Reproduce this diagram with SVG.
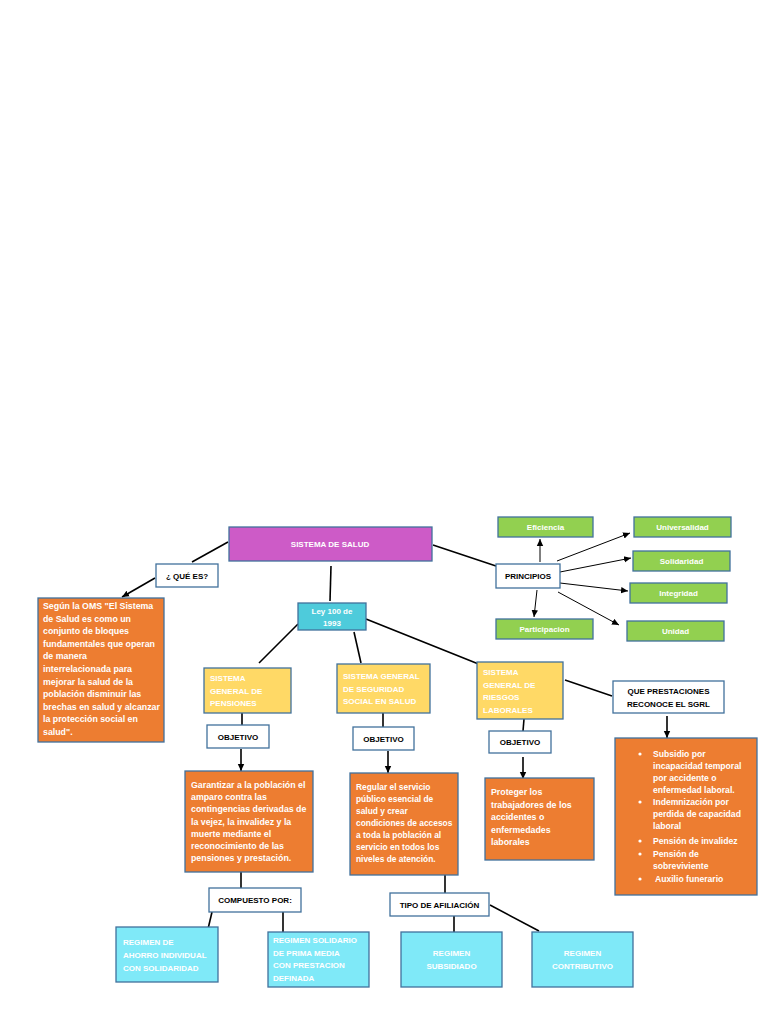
<svg xmlns="http://www.w3.org/2000/svg" width="768" height="1024" viewBox="0 0 768 1024">
<style>
.bx{stroke:#41719C;stroke-width:1.3}
.pink{fill:#CD5BC7}
.cyan{fill:#4ECBDB}
.lcyan{fill:#7FE9F8}
.org{fill:#ED7D31}
.yel{fill:#FFD966}
.grn{fill:#92D050}
.wht{fill:#FFFFFF}
text{font-family:"Liberation Sans",Arial,sans-serif;font-size:8px;font-weight:bold}
.body{font-size:8.8px}
.reg{font-size:8.4px}
.lst{font-size:8.6px}
.w{fill:#FFFFFF}
.k{fill:#000000}
.c{text-anchor:middle}
.ln{stroke:#000;stroke-width:1.6;fill:none}
.th{stroke:#000;stroke-width:1;fill:none}
</style>
<defs>
<marker id="ah" markerUnits="userSpaceOnUse" markerWidth="8" markerHeight="8" refX="7" refY="4" orient="auto">
<path d="M0,0.8 L7,4 L0,7.2 Z" fill="#000"/>
</marker>
</defs>
<rect width="768" height="1024" fill="#FFFFFF"/>

<g id="connectors">
<line class="ln" x1="228" y1="542" x2="192" y2="562"/>
<line class="ln" x1="155" y1="578" x2="122" y2="597" marker-end="url(#ah)"/>
<line class="ln" x1="331" y1="566" x2="330" y2="601"/>
<line class="ln" x1="433" y1="545" x2="496" y2="566"/>
<line class="th" x1="540" y1="562" x2="540" y2="539" marker-end="url(#ah)"/>
<line class="th" x1="557" y1="561" x2="630" y2="533" marker-end="url(#ah)"/>
<line class="th" x1="560" y1="572" x2="631" y2="558" marker-end="url(#ah)"/>
<line class="th" x1="560" y1="583" x2="628" y2="591" marker-end="url(#ah)"/>
<line class="th" x1="558" y1="592" x2="619" y2="625" marker-end="url(#ah)"/>
<line class="th" x1="537" y1="590" x2="534" y2="617" marker-end="url(#ah)"/>
<line class="ln" x1="298" y1="624" x2="259" y2="663"/>
<line class="ln" x1="354" y1="632" x2="361" y2="663"/>
<line class="ln" x1="366" y1="619" x2="481" y2="665"/>
<line class="ln" x1="242" y1="713" x2="242" y2="726"/>
<line class="ln" x1="383" y1="713" x2="383" y2="727"/>
<line class="ln" x1="524" y1="719" x2="523" y2="731"/>
<line class="ln" x1="565" y1="680" x2="612" y2="696"/>
<line class="ln" x1="667" y1="716" x2="667" y2="738" marker-end="url(#ah)"/>
<line class="ln" x1="241" y1="749" x2="241" y2="771" marker-end="url(#ah)"/>
<line class="ln" x1="388" y1="751" x2="388" y2="773" marker-end="url(#ah)"/>
<line class="ln" x1="523" y1="757" x2="523" y2="779" marker-end="url(#ah)"/>
<line class="ln" x1="241" y1="872" x2="241" y2="888"/>
<line class="ln" x1="212" y1="912" x2="208" y2="929"/>
<line class="ln" x1="283" y1="912" x2="283" y2="932"/>
<line class="ln" x1="445" y1="875" x2="445" y2="893"/>
<line class="ln" x1="454" y1="916" x2="454" y2="933"/>
<line class="ln" x1="490" y1="905" x2="539" y2="931"/>
</g>

<g id="sistema">
<rect class="bx pink" x="229" y="527" width="203" height="34"/>
<text class="w c" x="330" y="547">SISTEMA DE SALUD</text>
</g>
<g id="quees">
<rect class="bx wht" x="156" y="564" width="62" height="23"/>
<text class="k c" x="187" y="579">¿ QUÉ ES?</text>
</g>
<g id="oms">
<rect class="bx org" x="38" y="598" width="126" height="144"/>
<text class="w body" x="43"><tspan x="43" y="609">Según la OMS  "El Sistema</tspan><tspan x="43" y="621.6">de Salud es como un</tspan><tspan x="43" y="634.2">conjunto de bloques</tspan><tspan x="43" y="646.8">fundamentales que operan</tspan><tspan x="43" y="659.4">de manera</tspan><tspan x="43" y="672">interrelacionada para</tspan><tspan x="43" y="684.6">mejorar la salud de la</tspan><tspan x="43" y="697.2">población disminuir las</tspan><tspan x="43" y="709.8">brechas en salud y alcanzar</tspan><tspan x="43" y="722.4">la protección social en</tspan><tspan x="43" y="735">salud".</tspan></text>
</g>
<g id="ley">
<rect class="bx cyan" x="298" y="603" width="68" height="27"/>
<text class="w c"><tspan x="332" y="614">Ley 100 de</tspan><tspan x="332" y="626">1993</tspan></text>
</g>
<g id="principios">
<rect class="bx wht" x="496" y="564" width="64" height="24"/>
<text class="k c" x="528" y="579">PRINCIPIOS</text>
</g>
<g id="eficiencia">
<rect class="bx grn" x="498" y="517" width="95" height="20"/>
<text class="w c" x="545.5" y="530">Eficiencia</text>
</g>
<g id="universalidad">
<rect class="bx grn" x="634" y="517" width="97" height="20"/>
<text class="w c" x="682.5" y="530">Universalidad</text>
</g>
<g id="solidaridad">
<rect class="bx grn" x="633" y="551" width="97" height="20"/>
<text class="w c" x="681.5" y="564">Solidaridad</text>
</g>
<g id="integridad">
<rect class="bx grn" x="630" y="583" width="97" height="20"/>
<text class="w c" x="678.5" y="596">Integridad</text>
</g>
<g id="unidad">
<rect class="bx grn" x="627" y="621" width="97" height="20"/>
<text class="w c" x="675.5" y="634">Unidad</text>
</g>
<g id="participacion">
<rect class="bx grn" x="496" y="619" width="97" height="20"/>
<text class="w c" x="544.5" y="632">Participacion</text>
</g>
<g id="pensiones">
<rect class="bx yel" x="204" y="668" width="87" height="45"/>
<text class="w"><tspan x="210" y="681">SISTEMA</tspan><tspan x="210" y="693.5">GENERAL DE</tspan><tspan x="210" y="706">PENSIONES</tspan></text>
</g>
<g id="sgsss">
<rect class="bx yel" x="337" y="664" width="93" height="49"/>
<text class="w"><tspan x="343" y="679">SISTEMA GENERAL</tspan><tspan x="343" y="691.5">DE SEGURIDAD</tspan><tspan x="343" y="704">SOCIAL EN SALUD</tspan></text>
</g>
<g id="riesgos">
<rect class="bx yel" x="477" y="662" width="86" height="57"/>
<text class="w"><tspan x="483" y="675">SISTEMA</tspan><tspan x="483" y="687.5">GENERAL DE</tspan><tspan x="483" y="700">RIESGOS</tspan><tspan x="483" y="712.5">LABORALES</tspan></text>
</g>
<g id="prestaciones">
<rect class="bx wht" x="613" y="681" width="111" height="32"/>
<text class="k c"><tspan x="668.5" y="694">QUE PRESTACIONES</tspan><tspan x="668.5" y="706.5">RECONOCE EL SGRL</tspan></text>
</g>
<g id="objetivo1">
<rect class="bx wht" x="207" y="725" width="62" height="23"/>
<text class="k c" x="238" y="740">OBJETIVO</text>
</g>
<g id="objetivo2">
<rect class="bx wht" x="353" y="727" width="61" height="23"/>
<text class="k c" x="383.5" y="742">OBJETIVO</text>
</g>
<g id="objetivo3">
<rect class="bx wht" x="489" y="731" width="62" height="22"/>
<text class="k c" x="520" y="745">OBJETIVO</text>
</g>
<g id="garantizar">
<rect class="bx org" x="185" y="771" width="128" height="101"/>
<text class="w body"><tspan x="191" y="788">Garantizar a la población el</tspan><tspan x="191" y="800.2">amparo contra las</tspan><tspan x="191" y="812.4">contingencias derivadas de</tspan><tspan x="191" y="824.6">la vejez, la invalidez y la</tspan><tspan x="191" y="836.8">muerte mediante el</tspan><tspan x="191" y="849">reconocimiento de las</tspan><tspan x="191" y="861.2">pensiones y prestación.</tspan></text>
</g>
<g id="regular">
<rect class="bx org" x="350" y="773" width="108" height="102"/>
<text class="w reg"><tspan x="356" y="790">Regular el servicio</tspan><tspan x="356" y="802">público esencial de</tspan><tspan x="356" y="814">salud y crear</tspan><tspan x="356" y="826">condiciones de accesos</tspan><tspan x="356" y="838">a toda la población al</tspan><tspan x="356" y="850">servicio en todos los</tspan><tspan x="356" y="862">niveles de atención.</tspan></text>
</g>
<g id="proteger">
<rect class="bx org" x="485" y="778" width="109" height="82"/>
<text class="w body"><tspan x="491" y="795">Proteger los</tspan><tspan x="491" y="807.5">trabajadores de los</tspan><tspan x="491" y="820">accidentes o</tspan><tspan x="491" y="832.5">enfermedades</tspan><tspan x="491" y="845">laborales</tspan></text>
</g>
<g id="lista">
<rect class="bx org" x="615" y="738" width="142" height="157"/>
<circle cx="640" cy="754" r="1.6" fill="#fff"/>
<circle cx="640" cy="802" r="1.6" fill="#fff"/>
<circle cx="640" cy="841" r="1.6" fill="#fff"/>
<circle cx="640" cy="854" r="1.6" fill="#fff"/>
<circle cx="640" cy="879" r="1.6" fill="#fff"/>
<text class="w lst"><tspan x="653" y="757">Subsidio por</tspan><tspan x="653" y="769">incapacidad temporal</tspan><tspan x="653" y="781">por accidente o</tspan><tspan x="653" y="793">enfermedad laboral.</tspan><tspan x="653" y="805">Indemnización por</tspan><tspan x="653" y="817">perdida de capacidad</tspan><tspan x="653" y="829">laboral</tspan><tspan x="653" y="844">Pensión de invalidez</tspan><tspan x="653" y="857">Pensión de</tspan><tspan x="653" y="869">sobreviviente</tspan><tspan x="655" y="882">Auxilio funerario</tspan></text>
</g>
<g id="compuesto">
<rect class="bx wht" x="209" y="888" width="92" height="24"/>
<text class="k c" x="255" y="903">COMPUESTO POR:</text>
</g>
<g id="tipo">
<rect class="bx wht" x="390" y="893" width="99" height="23"/>
<text class="k c" x="439.5" y="908">TIPO DE AFILIACIÓN</text>
</g>
<g id="ahorro">
<rect class="bx lcyan" x="116" y="927" width="102" height="55"/>
<text class="w"><tspan x="123" y="945">REGIMEN DE</tspan><tspan x="123" y="958">AHORRO INDIVIDUAL</tspan><tspan x="123" y="971">CON SOLIDARIDAD</tspan></text>
</g>
<g id="solidario">
<rect class="bx lcyan" x="268" y="932" width="101" height="55"/>
<text class="w"><tspan x="273" y="943">REGIMEN SOLIDARIO</tspan><tspan x="273" y="955.5">DE PRIMA MEDIA</tspan><tspan x="273" y="968">CON PRESTACION</tspan><tspan x="273" y="980.5">DEFINADA</tspan></text>
</g>
<g id="subsidiado">
<rect class="bx lcyan" x="401" y="932" width="101" height="55"/>
<text class="w c"><tspan x="451.5" y="956">REGIMEN</tspan><tspan x="451.5" y="969">SUBSIDIADO</tspan></text>
</g>
<g id="contributivo">
<rect class="bx lcyan" x="532" y="932" width="101" height="55"/>
<text class="w c"><tspan x="582.5" y="956">REGIMEN</tspan><tspan x="582.5" y="969">CONTRIBUTIVO</tspan></text>
</g>
</svg>
